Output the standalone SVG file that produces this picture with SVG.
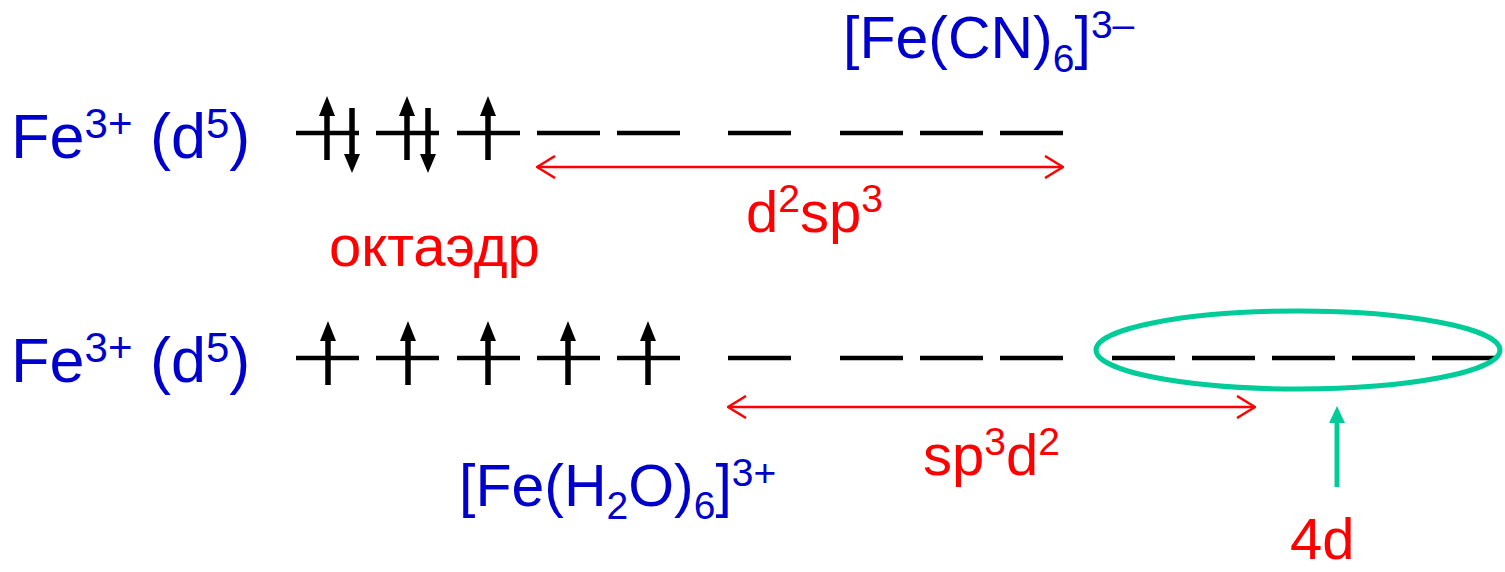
<svg xmlns="http://www.w3.org/2000/svg" xmlns:xlink="http://www.w3.org/1999/xlink" width="1505" height="572" viewBox="0 0 1505 572">
<style>
  text { font-family: "Liberation Sans", Arial, sans-serif; }
  .blue { fill: #0000CC; }
  .red { fill: #FF0000; }
  .orb { stroke: #000; stroke-width: 4.5; fill: none; }
  .shaft { stroke: #000; stroke-width: 5.5; fill: none; }
  .head { fill: #000; }
  .rarrow { stroke: #FF0000; stroke-width: 2.5; fill: none; }
</style>
<defs>
  <marker id="chev" viewBox="0 0 20 24" refX="19" refY="12" markerWidth="20" markerHeight="24" markerUnits="userSpaceOnUse" orient="auto-start-reverse">
    <path d="M1,1 L19,12 L1,23" fill="none" stroke="#FF0000" stroke-width="2.5"/>
  </marker>
  <path id="orbline" d="M0,0 H63" class="orb"/>
  <g id="up">
    <path d="M0,-18 V27" class="shaft"/>
    <path d="M-8,-17 L0,-37 L8,-17 Z" class="head"/>
  </g>
  <g id="down">
    <path d="M0,-25 V22" class="shaft"/>
    <path d="M-8,21 L0,40 L8,21 Z" class="head"/>
  </g>
</defs>

<g id="label-row1">
  <text x="11" y="158" font-size="63" class="blue">Fe<tspan font-size="42" dy="-20">3+</tspan><tspan dy="20"> (d</tspan><tspan font-size="42" dy="-20">5</tspan><tspan dy="20">)</tspan></text>
</g>
<g id="label-row2">
  <text x="11" y="382" font-size="63" class="blue">Fe<tspan font-size="42" dy="-20">3+</tspan><tspan dy="20"> (d</tspan><tspan font-size="42" dy="-20">5</tspan><tspan dy="20">)</tspan></text>
</g>

<g id="orbitals-row1">
  <use xlink:href="#orbline" x="296" y="133"/>
  <use xlink:href="#orbline" x="376" y="133"/>
  <use xlink:href="#orbline" x="457" y="133"/>
  <use xlink:href="#orbline" x="537" y="133"/>
  <use xlink:href="#orbline" x="617" y="133"/>
  <use xlink:href="#orbline" x="728" y="133"/>
  <use xlink:href="#orbline" x="840" y="133"/>
  <use xlink:href="#orbline" x="920" y="133"/>
  <use xlink:href="#orbline" x="1000" y="133"/>
  <use xlink:href="#up" x="327" y="133"/>
  <use xlink:href="#down" x="352" y="133"/>
  <use xlink:href="#up" x="407" y="133"/>
  <use xlink:href="#down" x="428" y="133"/>
  <use xlink:href="#up" x="488" y="133"/>
</g>

<g id="orbitals-row2">
  <use xlink:href="#orbline" x="296" y="358"/>
  <use xlink:href="#orbline" x="376" y="358"/>
  <use xlink:href="#orbline" x="457" y="358"/>
  <use xlink:href="#orbline" x="537" y="358"/>
  <use xlink:href="#orbline" x="617" y="358"/>
  <use xlink:href="#orbline" x="728" y="358"/>
  <use xlink:href="#orbline" x="840" y="358"/>
  <use xlink:href="#orbline" x="920" y="358"/>
  <use xlink:href="#orbline" x="1000" y="358"/>
  <use xlink:href="#orbline" x="1112" y="358"/>
  <use xlink:href="#orbline" x="1192" y="358"/>
  <use xlink:href="#orbline" x="1272" y="358"/>
  <use xlink:href="#orbline" x="1352" y="358"/>
  <use xlink:href="#orbline" x="1432" y="358"/>
  <use xlink:href="#up" x="328" y="358"/>
  <use xlink:href="#up" x="408" y="358"/>
  <use xlink:href="#up" x="488" y="358"/>
  <use xlink:href="#up" x="568" y="358"/>
  <use xlink:href="#up" x="648" y="358"/>
</g>

<g id="ellipse-4d">
  <ellipse cx="1298" cy="350" rx="202" ry="39" fill="none" stroke="#00CC99" stroke-width="5"/>
</g>

<g id="complex-cn">
  <text x="843" y="58" font-size="59" class="blue">[Fe(CN)<tspan font-size="39" dy="14">6</tspan><tspan dy="-14">]</tspan><tspan font-size="39" dy="-20">3–</tspan></text>
</g>
<g id="complex-h2o">
  <text x="459" y="506" font-size="59" class="blue">[Fe(H<tspan font-size="39" dy="13">2</tspan><tspan dy="-13">O)</tspan><tspan font-size="39" dy="13">6</tspan><tspan dy="-13">]</tspan><tspan font-size="39" dy="-20">3+</tspan></text>
</g>
<g id="label-d2sp3">
  <text x="746" y="232" font-size="58" class="red">d<tspan font-size="39" dy="-20">2</tspan><tspan dy="20">sp</tspan><tspan font-size="39" dy="-20">3</tspan></text>
</g>
<g id="label-oct">
  <text x="329" y="266" font-size="58" class="red">октаэдр</text>
</g>
<g id="label-sp3d2">
  <text x="923" y="475" font-size="58" class="red">sp<tspan font-size="39" dy="-20">3</tspan><tspan dy="20">d</tspan><tspan font-size="39" dy="-20">2</tspan></text>
</g>
<g id="label-4d">
  <text x="1290" y="559" font-size="58" class="red">4d</text>
</g>

<g id="connectors">
  <path d="M537,167 H1063" class="rarrow" marker-start="url(#chev)" marker-end="url(#chev)"/>
  <path d="M728,407 H1255" class="rarrow" marker-start="url(#chev)" marker-end="url(#chev)"/>
  <path d="M1337,487 V420" stroke="#00CC99" stroke-width="5" fill="none"/>
  <path d="M1329,423 L1337,406 L1345,423 Z" fill="#00CC99"/>
</g>
</svg>
